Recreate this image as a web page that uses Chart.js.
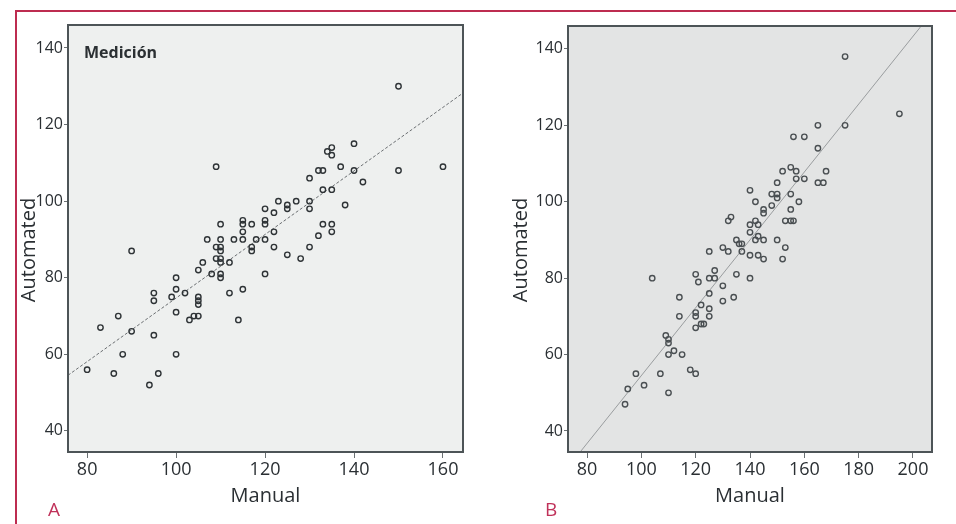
<!doctype html>
<html>

<head>
    <title>Manual vs Automated</title>
    <script src="https://cdn.jsdelivr.net/npm/chart.js"></script>
    <style>
        body {
            margin: 0;
            padding: 0;
            width: 956px;
            height: 524px;
            position: relative;
            background: #ffffff;
            font-family: "Open Sans", sans-serif;
            overflow: hidden;
        }

        canvas {
            position: absolute;
            top: 0;
        }

        #graficoA { left: 0; }
        #graficoB { left: 480px; }

        .linhaTopo {
            position: absolute;
            left: 15px;
            top: 10px;
            width: 941px;
            height: 2px;
            background: #bd2c50;
        }

        .linhaEsq {
            position: absolute;
            left: 15px;
            top: 10px;
            width: 2px;
            height: 514px;
            background: #bd2c50;
        }

        .letra {
            position: absolute;
            top: 497px;
            font-size: 19px;
            line-height: 24px;
            color: #c0325a;
        }

        .medicao {
            position: absolute;
            left: 84px;
            top: 41px;
            font-size: 16px;
            line-height: 22px;
            font-weight: bold;
            color: #2b3033;
        }
    </style>
</head>

<body>
    <div class="linhaTopo"></div>
    <div class="linhaEsq"></div>
    <canvas id="graficoA" width="480" height="524"></canvas>
    <canvas id="graficoB" width="476" height="524"></canvas>
    <div class="medicao">Medición</div>
    <div class="letra" style="left:48px">A</div>
    <div class="letra" style="left:545px">B</div>

    <script>
        // painel A
        var manualA = [80, 83, 86, 87, 88, 90, 90, 94, 95, 95, 95, 96, 99, 100, 100, 100, 100, 102, 103, 104,
            105, 105, 105, 105, 105, 106, 107, 108, 109, 109, 109, 110, 110, 110, 110, 110, 110, 110, 110, 112,
            112, 113, 114, 115, 115, 115, 115, 115, 117, 117, 117, 118, 120, 120, 120, 120, 120, 122, 122, 122,
            123, 125, 125, 125, 127, 128, 130, 130, 130, 130, 132, 132, 133, 133, 133, 134, 135, 135, 135, 135,
            135, 137, 138, 140, 140, 142, 150, 150, 160];
        var automatedA = [56, 67, 55, 70, 60, 66, 87, 52, 76, 74, 65, 55, 75, 80, 77, 71, 60, 76, 69, 70,
            82, 75, 74, 73, 70, 84, 90, 81, 109, 88, 85, 94, 90, 88, 87, 85, 84, 81, 80, 84,
            76, 90, 69, 95, 94, 92, 90, 77, 94, 88, 87, 90, 98, 95, 94, 90, 81, 97, 92, 88,
            100, 99, 98, 86, 100, 85, 106, 100, 98, 88, 108, 91, 108, 103, 94, 113, 114, 112, 103, 94,
            92, 109, 99, 115, 108, 105, 130, 108, 109];
        var retaA = { slope: 0.83, intercept: -8.3 };

        // painel B
        var manualB = [94, 95, 98, 101, 104, 107, 109, 110, 110, 110, 110, 112, 114, 114, 115, 118, 120, 120, 120, 120,
            120, 121, 122, 122, 123, 125, 125, 125, 125, 125, 127, 127, 130, 130, 130, 132, 132, 133, 134, 135,
            135, 136, 137, 137, 140, 140, 140, 140, 140, 142, 142, 142, 143, 143, 143, 145, 145, 145, 145, 148,
            148, 150, 150, 150, 150, 152, 152, 153, 153, 155, 155, 155, 155, 156, 157, 157, 158, 160, 165, 167,
            168, 156, 160, 165, 165, 175, 175, 195];
        var automatedB = [47, 51, 55, 52, 80, 55, 65, 64, 63, 60, 50, 61, 75, 70, 60, 56, 81, 71, 70, 67,
            55, 79, 73, 68, 68, 87, 80, 76, 72, 70, 82, 80, 88, 78, 74, 87, 95, 96, 75, 90,
            81, 89, 89, 87, 103, 94, 92, 86, 80, 100, 95, 90, 94, 91, 86, 98, 97, 90, 85, 102,
            99, 105, 102, 101, 90, 108, 85, 88, 95, 109, 102, 98, 95, 95, 108, 106, 100, 106, 105, 105,
            108, 117, 117, 120, 114, 138, 120, 123];
        var retaB = { slope: 0.888, intercept: -34.3 };

        var ticksY = [40, 60, 80, 100, 120, 140];
        var ticksXA = [80, 100, 120, 140, 160];
        var ticksXB = [80, 100, 120, 140, 160, 180, 200];

        var corTexto = '#2a2f33';

        // fundo cinza da área, moldura e título do eixo y (um pouco abaixo do centro, como no original)
        var fundoPlugin = {
            id: 'fundo',
            beforeDraw: function (chart, args, opts) {
                var a = chart.chartArea, ctx = chart.ctx;
                ctx.save();
                ctx.fillStyle = opts.cor;
                ctx.fillRect(a.left, a.top, a.right - a.left, a.bottom - a.top);
                ctx.restore();
            },
            afterDraw: function (chart, args, opts) {
                var a = chart.chartArea, ctx = chart.ctx;
                ctx.save();
                ctx.strokeStyle = '#4d5457';
                ctx.lineWidth = 2;
                ctx.strokeRect(a.left, a.top, a.right - a.left, a.bottom - a.top);
                ctx.translate(opts.tituloX, 250);
                ctx.rotate(-Math.PI / 2);
                ctx.fillStyle = corTexto;
                ctx.font = '20px "Open Sans"';
                ctx.textAlign = 'center';
                ctx.textBaseline = 'middle';
                ctx.fillText('Automated', 0, 0);
                ctx.restore();
            }
        };

        function pontos(xs, ys) {
            return xs.map(function (x, i) { return { x: x, y: ys[i] }; });
        }

        function criarGrafico(id, cfg) {
            return new Chart(document.getElementById(id).getContext('2d'), {
                type: 'scatter',
                data: {
                    datasets: [{
                        data: pontos(cfg.xs, cfg.ys),
                        pointRadius: 2.7,
                        pointBorderWidth: 1.4,
                        borderColor: cfg.corPonto,
                        backgroundColor: 'rgba(0,0,0,0)',
                        order: 1
                    }, {
                        type: 'line',
                        data: [
                            { x: cfg.xMin, y: cfg.reta.slope * cfg.xMin + cfg.reta.intercept },
                            { x: cfg.xMax, y: cfg.reta.slope * cfg.xMax + cfg.reta.intercept }
                        ],
                        borderColor: cfg.corReta,
                        borderWidth: 1,
                        borderDash: cfg.tracejado,
                        pointRadius: 0,
                        order: 2
                    }]
                },
                options: {
                    responsive: false,
                    animation: false,
                    layout: { padding: cfg.padding },
                    plugins: {
                        legend: { display: false },
                        tooltip: { enabled: false },
                        fundo: { cor: cfg.fundo, tituloX: cfg.tituloX }
                    },
                    scales: {
                        x: {
                            type: 'linear',
                            min: cfg.xMin,
                            max: cfg.xMax,
                            afterBuildTicks: function (s) { s.ticks = cfg.ticksX.map(function (v) { return { value: v }; }); },
                            afterFit: function (s) { s.height = 72; },
                            border: { display: false },
                            grid: { drawOnChartArea: false, tickLength: 6, color: '#6a7073', lineWidth: 1 },
                            ticks: { color: corTexto, font: { family: 'Open Sans', size: 18 }, padding: 1, maxRotation: 0 },
                            title: {
                                display: true, text: 'Manual', color: corTexto,
                                font: { family: 'Open Sans', size: 20 },
                                padding: { top: 0, bottom: 16 }
                            }
                        },
                        y: {
                            min: 34.5,
                            max: 146,
                            afterBuildTicks: function (s) { s.ticks = ticksY.map(function (v) { return { value: v }; }); },
                            afterFit: function (s) { s.width = cfg.larguraY; },
                            border: { display: false },
                            grid: { drawOnChartArea: false, tickLength: 4, color: '#6a7073', lineWidth: 1 },
                            ticks: { color: corTexto, font: { family: 'Open Sans', size: 16 }, padding: 1 }
                        }
                    }
                },
                plugins: [fundoPlugin]
            });
        }

        var graficoA = criarGrafico('graficoA', {
            xs: manualA, ys: automatedA, reta: retaA,
            xMin: 75.7, xMax: 164.5, ticksX: ticksXA,
            corPonto: '#2e3336', corReta: '#6b6f72', tracejado: [3, 2],
            fundo: '#eef0ef', padding: { top: 25, right: 17, left: 0, bottom: 0 },
            larguraY: 68, tituloX: 29
        });

        var graficoB = criarGrafico('graficoB', {
            xs: manualB, ys: automatedB, reta: retaB,
            xMin: 73, xMax: 207, ticksX: ticksXB,
            corPonto: '#4a4f52', corReta: '#9a9d9f', tracejado: [],
            fundo: '#e3e4e4', padding: { top: 26, right: 24, left: 0, bottom: 0 },
            larguraY: 88, tituloX: 41
        });
    </script>
</body>

</html>
